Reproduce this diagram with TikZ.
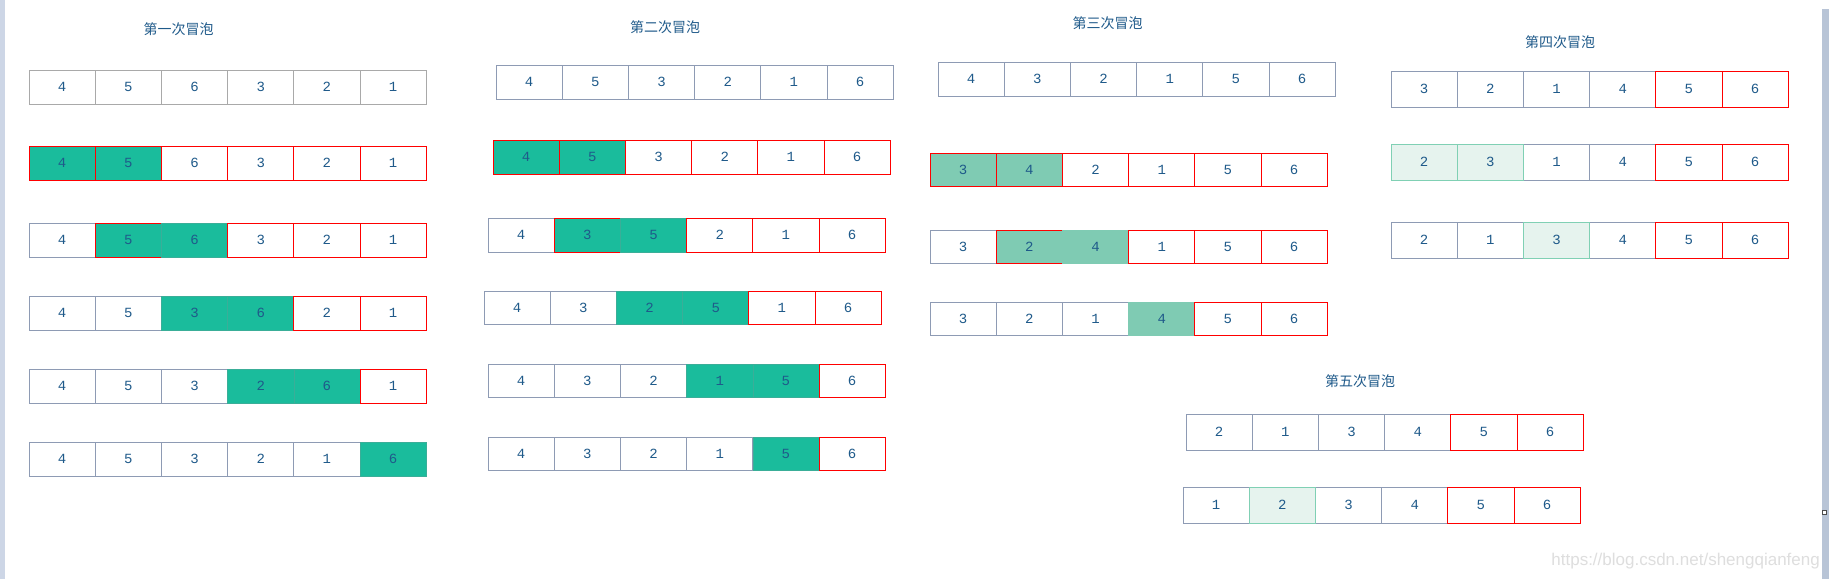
\documentclass[tikz,border=0pt]{standalone}
\usepackage{fontspec}
\newfontfamily\cjk{Noto Sans CJK SC}
\newfontfamily\digitfont{Liberation Mono}
\newfontfamily\wmfont{Liberation Sans}
\definecolor{txtblue}{HTML}{1F5A8A}
\definecolor{grayb}{HTML}{8E9BB4}
\definecolor{grayl}{HTML}{A9A9A9}
\definecolor{teal1}{HTML}{1ABC9C}
\definecolor{teal1d}{HTML}{3AAE98}
\definecolor{teal2}{HTML}{7FCBB3}
\definecolor{palef}{HTML}{E6F3EE}
\definecolor{paleb}{HTML}{80D0B4}
\definecolor{redb}{HTML}{FF0000}
\definecolor{leftbar}{HTML}{CDD6E6}
\definecolor{rightbar}{HTML}{B8C4D6}
\definecolor{wm}{HTML}{DEDEDE}
\newcommand\cellrow[5]{%
  \foreach \c/\s/\v in {#5} {
    \node[cell,\s,minimum height=#4pt] (#1-\c) at ({#2+(\c-0.5)*66.2},{#3+#4/2}) {\v};
  }%
}
\begin{document}
\begin{tikzpicture}[x=1pt,y=-1pt,
  cell/.style={rectangle,inner sep=0pt,minimum width=66.2pt,line width=1pt,
    font=\digitfont\fontsize{14}{14}\selectfont,text=txtblue},
  cg/.style={draw=grayb,fill=white},
  cgl/.style={draw=grayl,fill=white},
  cr/.style={draw=redb,fill=white,line width=1pt},
  crg/.style={draw=redb,fill=teal1,line width=1pt},
  cgn/.style={draw=teal1d,fill=teal1,line width=0.5pt},
  clr/.style={draw=redb,fill=teal2,line width=1pt},
  cln/.style={draw=teal2,fill=teal2,line width=0.5pt},
  cp/.style={draw=paleb,fill=palef},
  ttl/.style={font=\cjk\fontsize{14}{14}\selectfont,text=txtblue,inner sep=0pt}
]
\useasboundingbox (0,0) rectangle (1829,579);
\fill[white] (0,0) rectangle (1829,579);
\fill[leftbar] (0,0) rectangle (5,579);
\fill[rightbar] (1822,9) rectangle (1829,579);
\node[draw=black!70,fill=white,minimum size=4pt,inner sep=0pt,line width=0.8pt] (sq) at (1824,512) {};

% titles
\node[ttl] (t1) at (178.5,29) {第一次冒泡};
\node[ttl] (t2) at (665,27) {第二次冒泡};
\node[ttl] (t3) at (1107.5,23) {第三次冒泡};
\node[ttl] (t4) at (1560,42) {第四次冒泡};
\node[ttl] (t5) at (1360,381) {第五次冒泡};

% group 1
\cellrow{a1}{29}{70}{34}{1/cgl/4,2/cgl/5,3/cgl/6,4/cgl/3,5/cgl/2,6/cgl/1}
\cellrow{a2}{29}{146}{34}{1/crg/4,2/crg/5,3/cr/6,4/cr/3,5/cr/2,6/cr/1}
\cellrow{a3}{29}{223}{34}{1/cg/4,2/crg/5,3/cgn/6,4/cr/3,5/cr/2,6/cr/1}
\cellrow{a4}{29}{296}{34}{1/cg/4,2/cg/5,3/cgn/3,4/cgn/6,5/cr/2,6/cr/1}
\cellrow{a5}{29}{369}{34}{1/cg/4,2/cg/5,3/cg/3,4/cgn/2,5/cgn/6,6/cr/1}
\cellrow{a6}{29}{442}{34}{1/cg/4,2/cg/5,3/cg/3,4/cg/2,5/cg/1,6/cgn/6}

% group 2
\cellrow{b1}{496}{65}{34}{1/cg/4,2/cg/5,3/cg/3,4/cg/2,5/cg/1,6/cg/6}
\cellrow{b2}{493}{140}{34}{1/crg/4,2/crg/5,3/cr/3,4/cr/2,5/cr/1,6/cr/6}
\cellrow{b3}{488}{218}{34}{1/cg/4,2/crg/3,3/cgn/5,4/cr/2,5/cr/1,6/cr/6}
\cellrow{b4}{484}{291}{33}{1/cg/4,2/cg/3,3/cgn/2,4/cgn/5,5/cr/1,6/cr/6}
\cellrow{b5}{488}{364}{33}{1/cg/4,2/cg/3,3/cg/2,4/cgn/1,5/cgn/5,6/cr/6}
\cellrow{b6}{488}{437}{33}{1/cg/4,2/cg/3,3/cg/2,4/cg/1,5/cgn/5,6/cr/6}

% group 3
\cellrow{c1}{938}{62}{34}{1/cg/4,2/cg/3,3/cg/2,4/cg/1,5/cg/5,6/cg/6}
\cellrow{c2}{930}{153}{33}{1/clr/3,2/clr/4,3/cr/2,4/cr/1,5/cr/5,6/cr/6}
\cellrow{c3}{930}{230}{33}{1/cg/3,2/clr/2,3/cln/4,4/cr/1,5/cr/5,6/cr/6}
\cellrow{c4}{930}{302}{33}{1/cg/3,2/cg/2,3/cg/1,4/cln/4,5/cr/5,6/cr/6}

% group 4
\cellrow{d1}{1391}{71}{36}{1/cg/3,2/cg/2,3/cg/1,4/cg/4,5/cr/5,6/cr/6}
\cellrow{d2}{1391}{144}{36}{3/cg/1,4/cg/4,1/cp/2,2/cp/3,5/cr/5,6/cr/6}
\cellrow{d3}{1391}{222}{36}{1/cg/2,2/cg/1,4/cg/4,3/cp/3,5/cr/5,6/cr/6}

% group 5
\cellrow{e1}{1186}{414}{36}{1/cg/2,2/cg/1,3/cg/3,4/cg/4,5/cr/5,6/cr/6}
\cellrow{e2}{1183}{487}{36}{1/cg/1,3/cg/3,4/cg/4,2/cp/2,5/cr/5,6/cr/6}

% watermark
\node[font=\wmfont\fontsize{17}{17}\selectfont,text=wm,inner sep=0pt,anchor=east] (wmk) at (1820,561) {https://blog.csdn.net/shengqianfeng};
\end{tikzpicture}
\end{document}
